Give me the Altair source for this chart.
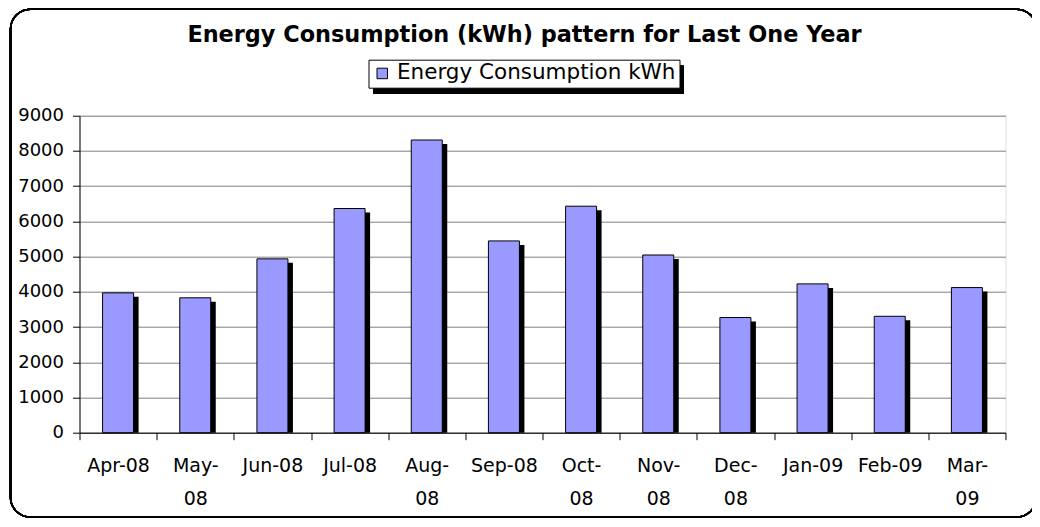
import altair as alt
import pandas as pd

months = ["Apr-08", "May-08", "Jun-08", "Jul-08", "Aug-08", "Sep-08",
          "Oct-08", "Nov-08", "Dec-08", "Jan-09", "Feb-09", "Mar-09"]
tick_labels = ["Apr-08", "May-\n08", "Jun-08", "Jul-08", "Aug-\n08", "Sep-08",
               "Oct-\n08", "Nov-\n08", "Dec-\n08", "Jan-09", "Feb-09", "Mar-\n09"]
values = [3970, 3830, 4935, 6365, 8310, 5445, 6430, 5045, 3270, 4225, 3305, 4120]
series_name = "Energy Consumption kWh"

df = pd.DataFrame({"month": months, "label": tick_labels, "kwh": values,
                   "series": [series_name] * len(months)})

FONT = "DejaVu Sans"
W, H = 926, 317

x = alt.X("label:N", sort=tick_labels,
          scale=alt.Scale(paddingInner=0, paddingOuter=0),
          axis=alt.Axis(title=None, labelExpr="split(datum.label, '\\n')",
                        labelAngle=0, labelFont=FONT, labelFontSize=19,
                        labelColor="black", labelLineHeight=33, labelPadding=17,
                        domainColor="black", tickColor="black", tickSize=7,
                        tickBand="extent", grid=False, labelBaseline="top"))
y = alt.Y("kwh:Q", stack=None,
          scale=alt.Scale(domain=[0, 9000], nice=False),
          axis=alt.Axis(title=None, values=list(range(0, 9001, 1000)),
                        format="d",
                        labelFont=FONT, labelFontSize=18, labelColor="black",
                        labelPadding=9, domainColor="black", tickColor="black",
                        tickSize=7, grid=True, gridColor="#808080",
                        gridWidth=1))

base = alt.Chart(df)

frame = base.mark_rect(fill=None, stroke="black", strokeWidth=1.5,
                       cornerRadius=20).encode(
    x=alt.value(-69), x2=alt.value(957), y=alt.value(-106.5), y2=alt.value(401.5))

legend_shadow = base.mark_rect(fill="black").encode(
    x=alt.value(294), x2=alt.value(604), y=alt.value(-50), y2=alt.value(-22))

shadow = base.mark_bar(color="black", size=31, xOffset=5, yOffset=4).encode(
    x=x, y=y)

bars = base.mark_bar(size=31, stroke="black", strokeWidth=1).encode(
    x=x, y=y,
    color=alt.Color("series:N",
                    scale=alt.Scale(domain=[series_name], range=["#9999FF"]),
                    legend=alt.Legend(title=None, orient="none",
                                      legendX=289, legendY=-56,
                                      strokeColor="black", fillColor="white",
                                      padding=3, symbolType="square",
                                      symbolSize=110, labelLimit=0,
                                      symbolStrokeColor="black",
                                      symbolStrokeWidth=1,
                                      symbolFillColor="#9999FF",
                                      labelFont=FONT, labelFontSize=21.5,
                                      labelColor="black")))

chart = alt.layer(frame, legend_shadow, shadow, bars).properties(
    width=W, height=H,
    title=alt.TitleParams("Energy Consumption (kWh) pattern for Last One Year",
                          font=FONT, fontSize=22.4, fontWeight="bold",
                          color="black", anchor="middle", dx=-18, offset=-38),
    autosize=alt.AutoSizeParams(type="none"),
    padding={"left": 71.5, "top": 107.7, "right": 26, "bottom": 86},
).configure_view(stroke="#808080", strokeWidth=1).configure(background="white")

chart.save("out.html", embed_options={"renderer": "svg", "actions": False})
